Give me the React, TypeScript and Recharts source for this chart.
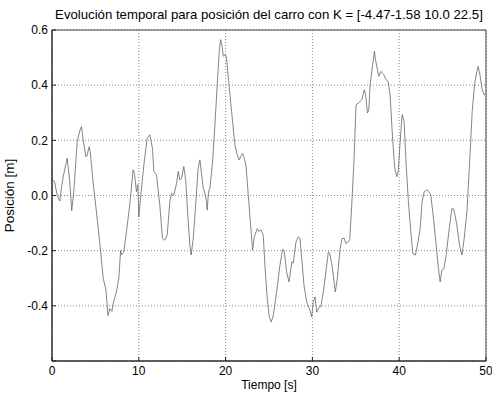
import { LineChart, Line, XAxis, YAxis, CartesianGrid, ReferenceArea } from 'recharts';

const title = 'Evolución temporal para posición del carro con K = [-4.47-1.58 10.0 22.5]';

// tiempo [s]
const time = [
  0.0, 0.3, 0.6, 0.9, 1.1, 1.3, 1.75, 2.05, 2.27, 2.5, 2.9, 3.2, 3.4, 3.55, 3.9, 4.05, 4.27, 4.4, 4.73,
  5.12, 5.5, 5.9, 6.2, 6.46, 6.66, 6.9, 7.1, 7.42, 7.7, 7.9, 8.0, 8.27, 8.58, 8.96, 9.34, 9.5, 9.73, 9.89,
  10.0, 10.2, 10.58, 10.96, 11.27, 11.58, 11.73, 12.04, 12.42, 12.73, 13.0, 13.27, 13.58, 13.77, 14.04,
  14.35, 14.54, 14.73, 14.9, 15.19, 15.42, 15.62, 15.88, 16.03, 16.27, 16.58, 16.84, 17.04, 17.2, 17.42,
  17.6, 17.8, 17.88, 18.03, 18.19, 18.5, 18.77, 19.03, 19.27, 19.42, 19.57, 19.73, 19.96, 20.1, 20.35,
  20.69, 21.07, 21.34, 21.57, 21.8, 21.96, 22.15, 22.34, 22.61, 22.88, 23.11, 23.3, 23.65, 23.85, 24.11,
  24.34, 24.53, 24.8, 25.03, 25.26, 25.49, 25.88, 26.26, 26.57, 26.75, 27.03, 27.3, 27.5, 27.65, 27.8,
  28.11, 28.38, 28.57, 28.77, 29.03, 29.34, 29.65, 29.92, 30.1, 30.3, 30.5, 30.8, 30.96, 31.26, 31.65,
  31.84, 32.0, 32.26, 32.5, 32.64, 32.88, 33.19, 33.42, 33.65, 33.87, 34.14, 34.3, 34.53, 34.8, 35.03,
  35.3, 35.69, 35.99, 36.15, 36.34, 36.5, 36.65, 36.95, 37.14, 37.3, 37.65, 37.88, 38.2, 38.49, 38.72,
  38.95, 39.26, 39.49, 39.72, 39.9, 40.11, 40.34, 40.57, 40.8, 41.06, 41.34, 41.57, 41.87, 42.1, 42.41,
  42.64, 42.88, 43.18, 43.4, 43.64, 43.95, 44.26, 44.52, 44.72, 44.91, 45.15, 45.41, 45.72, 46.07, 46.3,
  46.64, 46.95, 47.22, 47.49, 47.8, 48.1, 48.41, 48.68, 48.95, 49.1, 49.3, 49.56, 49.8, 50.0,
];

// posición [m]
const position = [
  0.06, 0.05, 0.0, -0.02, 0.03, 0.07, 0.135, 0.05, -0.055, 0.01, 0.195, 0.235, 0.25, 0.21, 0.14, 0.145, 0.177, 0.16, 0.05,
  -0.06, -0.17, -0.3, -0.34, -0.435, -0.41, -0.42, -0.385, -0.35, -0.3, -0.2, -0.215, -0.205, -0.13, -0.035, 0.093, 0.08, 0.014, 0.04,
  -0.077, -0.01, 0.11, 0.208, 0.22, 0.17, 0.087, 0.075, -0.035, -0.156, -0.162, -0.144, -0.022, 0.008, 0.002,
  0.044, 0.087, 0.056, 0.06, 0.105, 0.05, -0.06, -0.18, -0.216, -0.156, -0.022, 0.099, 0.129, 0.087, 0.026,
  0.01, -0.022, -0.053, 0.014, 0.026, 0.123, 0.256, 0.4, 0.523, 0.565, 0.547, 0.505, 0.511, 0.5, 0.414,
  0.305, 0.184, 0.147, 0.129, 0.145, 0.153, 0.135, 0.111, 0.002, -0.107, -0.198, -0.15, -0.12, -0.13, -0.125,
  -0.144, -0.253, -0.374, -0.44, -0.459, -0.435, -0.35, -0.253, -0.195, -0.2, -0.277, -0.313, -0.27, -0.24, -0.245,
  -0.168, -0.15, -0.156, -0.228, -0.325, -0.386, -0.41, -0.44, -0.386, -0.368, -0.423, -0.404, -0.404, -0.35, -0.253,
  -0.204, -0.21, -0.253, -0.313, -0.35, -0.3, -0.192, -0.156, -0.155, -0.174, -0.168, -0.16, -0.035, 0.135, 0.329,
  0.335, 0.347, 0.384, 0.36, 0.299, 0.31, 0.402, 0.475, 0.523, 0.487, 0.432, 0.45, 0.44, 0.42, 0.414,
  0.365, 0.196, 0.099, 0.068, 0.09, 0.196, 0.293, 0.268, 0.111, -0.022, -0.132, -0.21, -0.216, -0.18, -0.12,
  -0.022, 0.014, 0.02, 0.015, 0.002, -0.083, -0.18, -0.265, -0.313, -0.271, -0.265, -0.216, -0.132, -0.047, -0.05,
  -0.107, -0.18, -0.216, -0.156, -0.059, 0.111, 0.305, 0.402, 0.45, 0.468, 0.438, 0.384, 0.365, 0.37,
];

const xTicks = [0, 10, 20, 30, 40, 50];
const yTicks = [-0.6, -0.4, -0.2, 0, 0.2, 0.4, 0.6];

const data = time.map((t, i) => ({ t, pos: position[i] }));

const font = '"Liberation Sans", Arial, sans-serif';
const tickStyle = { fill: '#000', fontSize: 12, fontFamily: font };

export default function App() {
  return (
    <div style={{ position: 'absolute', left: 0, top: 0, width: 492, height: 396, background: '#fff' }}>
      <div
        style={{
          position: 'absolute',
          top: 7,
          left: 0,
          width: 538,
          textAlign: 'center',
          fontFamily: font,
          fontSize: 13.2,
          lineHeight: '15px',
          color: '#000',
          whiteSpace: 'nowrap',
        }}
      >
        {title}
      </div>
      <LineChart width={492} height={396} data={data} margin={{ top: 30, right: 6, bottom: 0, left: 0 }}>
        <CartesianGrid stroke="#8a8a8a" strokeDasharray="1 2" />
        <XAxis
          dataKey="t"
          type="number"
          domain={[0, 50]}
          ticks={xTicks}
          height={35}
          tick={tickStyle}
          tickLine={{ stroke: '#222' }}
          tickSize={-4}
          tickMargin={9.5}
          axisLine={{ stroke: '#222' }}
          label={{ value: 'Tiempo [s]', position: 'insideBottom', offset: 7, style: { ...tickStyle } }}
        />
        <YAxis
          type="number"
          domain={[-0.6, 0.6]}
          ticks={yTicks}
          width={52}
          tick={tickStyle}
          tickLine={{ stroke: '#222' }}
          tickSize={-4}
          tickMargin={8}
          axisLine={{ stroke: '#222' }}
          tickFormatter={(v: number) => (v <= -0.59 ? '' : v.toFixed(1))}
          label={{
            value: 'Posición [m]',
            angle: -90,
            position: 'insideLeft',
            offset: 9,
            style: { ...tickStyle, fontSize: 13.5, textAnchor: 'middle' },
          }}
        />
        <ReferenceArea x1={0} x2={50} y1={-0.6} y2={0.6} fill="none" stroke="#444" strokeWidth={1} />
        <Line
          type="linear"
          dataKey="pos"
          stroke="#666"
          strokeWidth={0.8}
          dot={false}
          isAnimationActive={false}
        />
      </LineChart>
    </div>
  );
}
